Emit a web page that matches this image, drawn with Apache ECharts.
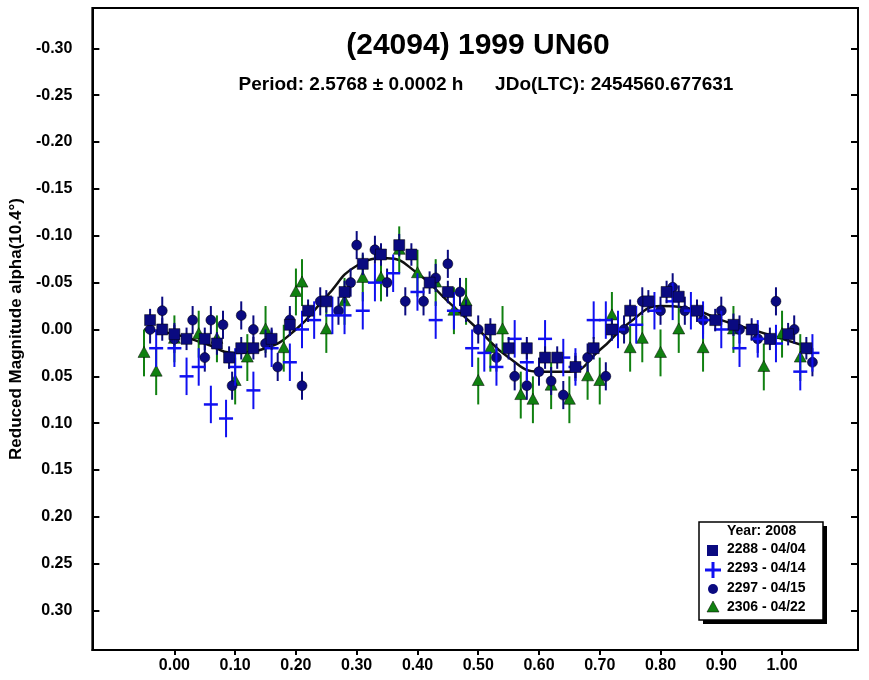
<!DOCTYPE html>
<html><head><meta charset="utf-8">
<script src="https://cdn.jsdelivr.net/npm/echarts@6/dist/echarts.min.js"></script>
<style>html,body{margin:0;padding:0;background:#fff}#c{width:869px;height:680px}</style>
</head><body><div id="c"></div>
<script>
// [phase, mag, err]
const s2288 = [[-0.04,-0.01,0.012],[-0.02,0.0,0.012],[0.0,0.005,0.012],[0.02,0.01,0.012],[0.05,0.01,0.012],[0.07,0.015,0.012],[0.09,0.03,0.012],[0.11,0.02,0.012],[0.13,0.02,0.012],[0.16,0.01,0.012],[0.19,-0.005,0.012],[0.22,-0.02,0.012],[0.25,-0.03,0.012],[0.28,-0.04,0.012],[0.31,-0.07,0.012],[0.34,-0.08,0.012],[0.37,-0.09,0.012],[0.39,-0.08,0.012],[0.42,-0.05,0.012],[0.45,-0.04,0.012],[0.48,-0.02,0.012],[0.52,0.0,0.012],[0.55,0.02,0.012],[0.58,0.02,0.012],[0.61,0.03,0.012],[0.63,0.03,0.012],[0.66,0.04,0.012],[0.69,0.02,0.012],[0.72,0.0,0.012],[0.75,-0.02,0.012],[0.78,-0.03,0.012],[0.81,-0.04,0.012],[0.83,-0.035,0.012],[0.86,-0.02,0.012],[0.89,-0.01,0.012],[0.92,-0.005,0.012],[0.95,0.0,0.012],[0.98,0.01,0.012],[1.01,0.005,0.012],[1.04,0.02,0.012]];
const s2293 = [[-0.03,0.02,0.02],[0.0,0.02,0.02],[0.02,0.05,0.02],[0.04,0.04,0.02],[0.06,0.08,0.02],[0.085,0.095,0.02],[0.1,0.04,0.02],[0.13,0.065,0.02],[0.16,0.02,0.02],[0.19,0.035,0.02],[0.21,0.0,0.02],[0.23,-0.01,0.02],[0.26,-0.015,0.02],[0.28,-0.015,0.02],[0.31,-0.02,0.02],[0.33,-0.05,0.02],[0.36,-0.06,0.02],[0.4,-0.04,0.02],[0.43,-0.01,0.02],[0.46,-0.02,0.02],[0.49,0.02,0.02],[0.51,0.025,0.02],[0.53,0.04,0.02],[0.56,0.01,0.02],[0.58,0.035,0.02],[0.61,0.01,0.02],[0.64,0.03,0.02],[0.66,0.04,0.02],[0.69,-0.01,0.02],[0.71,-0.01,0.02],[0.73,0.0,0.02],[0.76,-0.005,0.02],[0.79,-0.02,0.02],[0.82,-0.03,0.02],[0.85,-0.02,0.02],[0.87,-0.01,0.02],[0.9,0.0,0.02],[0.93,0.02,0.02],[0.96,0.01,0.02],[0.99,0.015,0.02],[1.03,0.045,0.02],[1.05,0.025,0.02]];
const s2297 = [[-0.04,0.0,0.015],[-0.02,-0.02,0.015],[0.0,0.01,0.015],[0.03,-0.01,0.015],[0.05,0.03,0.015],[0.06,-0.01,0.015],[0.08,-0.005,0.015],[0.095,0.06,0.015],[0.11,-0.015,0.015],[0.13,0.0,0.015],[0.15,0.015,0.015],[0.17,0.04,0.015],[0.19,-0.01,0.015],[0.21,0.06,0.015],[0.24,-0.03,0.015],[0.27,-0.02,0.015],[0.29,-0.05,0.015],[0.3,-0.09,0.015],[0.33,-0.085,0.015],[0.35,-0.05,0.015],[0.38,-0.03,0.015],[0.41,-0.03,0.015],[0.43,-0.055,0.015],[0.45,-0.07,0.015],[0.47,-0.04,0.015],[0.5,0.0,0.015],[0.53,0.03,0.015],[0.56,0.05,0.015],[0.58,0.06,0.015],[0.6,0.045,0.015],[0.62,0.055,0.015],[0.64,0.07,0.015],[0.66,0.04,0.015],[0.68,0.03,0.015],[0.71,0.05,0.015],[0.74,0.0,0.015],[0.77,-0.03,0.015],[0.8,-0.02,0.015],[0.82,-0.045,0.015],[0.84,-0.02,0.015],[0.87,-0.01,0.015],[0.9,-0.02,0.015],[0.93,0.0,0.015],[0.96,0.01,0.015],[0.99,-0.03,0.015],[1.02,0.0,0.015],[1.05,0.035,0.015]];
const s2306 = [[-0.05,0.025,0.025],[-0.03,0.045,0.025],[0.0,0.01,0.025],[0.04,0.005,0.025],[0.07,0.01,0.025],[0.1,0.055,0.025],[0.12,0.03,0.025],[0.15,0.0,0.025],[0.18,0.02,0.025],[0.2,-0.04,0.025],[0.21,-0.05,0.025],[0.25,0.0,0.025],[0.28,-0.03,0.025],[0.31,-0.055,0.025],[0.34,-0.055,0.025],[0.37,-0.085,0.025],[0.4,-0.06,0.025],[0.43,-0.05,0.025],[0.46,-0.02,0.025],[0.48,-0.03,0.025],[0.5,0.055,0.025],[0.52,0.02,0.025],[0.54,0.0,0.025],[0.57,0.07,0.025],[0.59,0.075,0.025],[0.62,0.06,0.025],[0.65,0.075,0.025],[0.68,0.05,0.025],[0.7,0.055,0.025],[0.72,-0.015,0.025],[0.75,0.02,0.025],[0.77,0.01,0.025],[0.8,0.025,0.025],[0.83,0.0,0.025],[0.87,0.02,0.025],[0.92,0.0,0.025],[0.97,0.04,0.025],[1.0,0.005,0.025],[1.03,0.03,0.025]];
const fitCurve = [[-0.05,0.0],[0.0,0.005],[0.05,0.015],[0.1,0.025],[0.15,0.02],[0.2,0.0],[0.25,-0.035],[0.3,-0.068],[0.35,-0.076],[0.4,-0.06],[0.45,-0.03],[0.5,0.0],[0.55,0.03],[0.6,0.045],[0.65,0.045],[0.7,0.022],[0.75,-0.008],[0.8,-0.025],[0.85,-0.022],[0.9,-0.01],[0.95,0.0],[1.0,0.01],[1.05,0.02]];
const xTicks = [0,0.1,0.2,0.3,0.4,0.5,0.6,0.7,0.8,0.9,1.0];
const yTicks = [-0.3,-0.25,-0.2,-0.15,-0.1,-0.05,0,0.05,0.1,0.15,0.2,0.25,0.3];
const legendItems = ['2288 - 04/04','2293 - 04/14','2297 - 04/15','2306 - 04/22'];

const navy='#0a0a80', blue='#1010f0', green='#108010';
function errSeries(name,data,color,shape){
  return {type:'custom',name,data,z:3,renderItem(p,api){
    const x=api.value(0),y=api.value(1),e=api.value(2);
    const c=api.coord([x,y]),t=api.coord([x,y-e]),b=api.coord([x,y+e]);
    const kids=[{type:'line',shape:{x1:c[0],y1:t[1],x2:c[0],y2:b[1]},style:{stroke:color,lineWidth:2}}];
    if(shape==='rect')kids.push({type:'rect',shape:{x:c[0]-5.5,y:c[1]-5.5,width:11,height:11},style:{fill:navy,stroke:'#000',lineWidth:0.5}});
    if(shape==='cross')kids.push({type:'line',shape:{x1:c[0]-7,y1:c[1],x2:c[0]+7,y2:c[1]},style:{stroke:blue,lineWidth:2.5}});
    if(shape==='circle')kids.push({type:'circle',shape:{cx:c[0],cy:c[1],r:5},style:{fill:navy,stroke:'#000',lineWidth:0.5}});
    if(shape==='tri')kids.push({type:'polygon',shape:{points:[[c[0],c[1]-6.5],[c[0]-6,c[1]+4.5],[c[0]+6,c[1]+4.5]]},style:{fill:green,stroke:'#000',lineWidth:0.5}});
    return {type:'group',children:kids};
  }};
}
const lab={color:'#000',fontWeight:'bold',fontSize:16,fontFamily:'Liberation Sans'};
const chart=echarts.init(document.getElementById('c'));
chart.setOption({
  animation:false,
  grid:{left:92,right:11,top:8,bottom:30,show:true,borderColor:'#000',borderWidth:2},
  title:[{text:'(24094) 1999 UN60',left:473,top:26,textAlign:'center',textStyle:{fontSize:30,fontWeight:'bold',fontFamily:'Liberation Sans',color:'#000'}},
         {text:'Period: 2.5768 ± 0.0002 h      JDo(LTC): 2454560.677631',left:481,top:70,textAlign:'center',textStyle:{fontSize:19,fontWeight:'bold',fontFamily:'Liberation Sans',color:'#000'}}],
  xAxis:{type:'value',min:-0.135,max:1.125,splitLine:{show:false},axisLine:{onZero:false,lineStyle:{color:'#000',width:2}},
    axisTick:{customValues:xTicks,inside:false,length:5,lineStyle:{color:'#000',width:2}},
    axisLabel:{customValues:xTicks,formatter:v=>v.toFixed(2),...lab,margin:8}},
  yAxis:[{type:'value',inverse:true,min:-0.343,max:0.342,splitLine:{show:false},
    name:'Reduced Magnitude alpha(10.4°)',nameLocation:'middle',nameGap:66,nameTextStyle:{...lab,fontSize:17},
    axisLine:{onZero:false,lineStyle:{color:'#000',width:2}},
    axisTick:{customValues:yTicks,inside:true,length:7,lineStyle:{color:'#000',width:2}},
    axisLabel:{customValues:yTicks,formatter:v=>v.toFixed(2),...lab,margin:20}},
    {type:'value',inverse:true,min:-0.343,max:0.342,position:'right',splitLine:{show:false},
    axisLine:{onZero:false,lineStyle:{color:'#000',width:2}},
    axisTick:{customValues:yTicks,inside:true,length:7,lineStyle:{color:'#000',width:2}},axisLabel:{show:false}}],
  series:[
    errSeries('2306',s2306,green,'tri'),
    errSeries('2297',s2297,navy,'circle'),
    errSeries('2293',s2293,blue,'cross'),
    errSeries('2288',s2288,navy,'rect'),
    {type:'line',data:fitCurve,smooth:true,symbol:'none',lineStyle:{color:'#111',width:2.5},z:2}
  ],
  graphic:[
    {type:'rect',shape:{x:703,y:526,width:124,height:98},style:{fill:'#000'}},
    {type:'rect',shape:{x:699,y:522,width:124,height:98},style:{fill:'#fff',stroke:'#000',lineWidth:1.5}},
    {type:'text',x:727,y:524,style:{text:'Year: 2008',font:'bold 14px Liberation Sans',fill:'#000'}},
    {type:'rect',shape:{x:707,y:545,width:11,height:11},style:{fill:navy}},
    {type:'line',shape:{x1:705,y1:570,x2:721,y2:570},style:{stroke:blue,lineWidth:3}},
    {type:'line',shape:{x1:713,y1:562,x2:713,y2:578},style:{stroke:blue,lineWidth:3}},
    {type:'circle',shape:{cx:713,cy:589,r:5},style:{fill:navy}},
    {type:'polygon',shape:{points:[[713,601],[707,612],[719,612]]},style:{fill:green,stroke:'#000',lineWidth:0.5}},
    ...legendItems.map((t,i)=>({type:'text',x:727,y:542+i*19.5,style:{text:t,font:'bold 14px Liberation Sans',fill:'#000'}}))
  ]
});
</script></body></html>
